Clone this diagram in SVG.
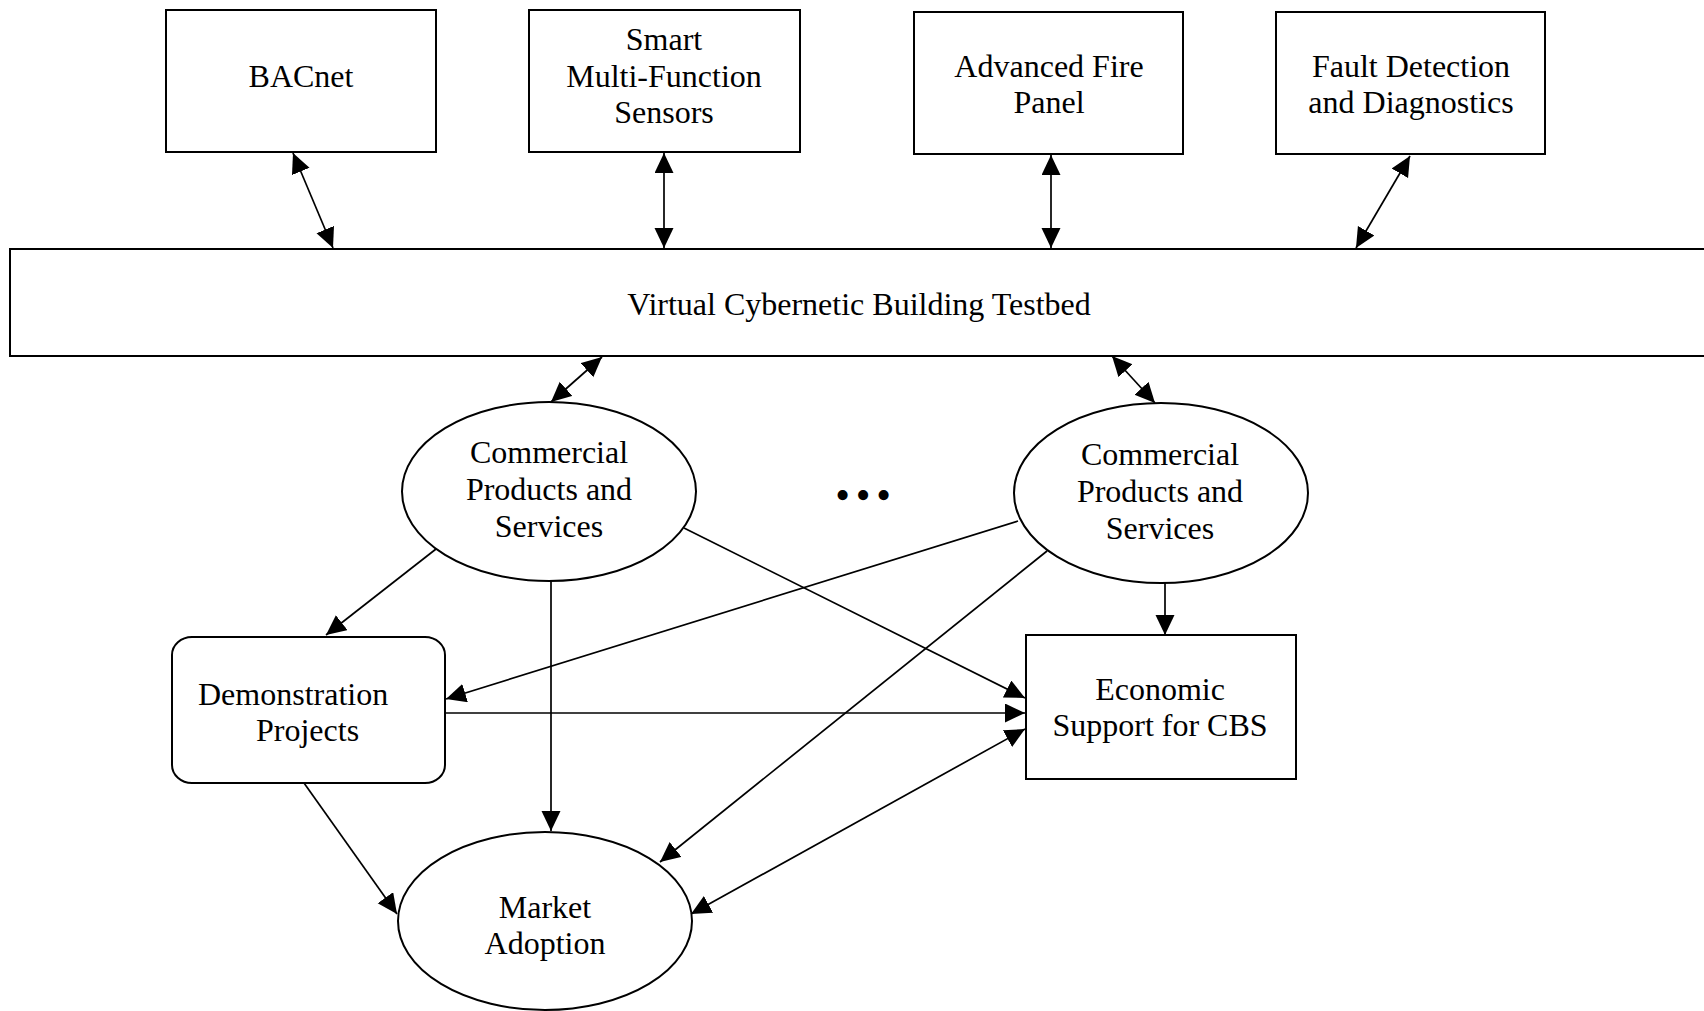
<svg xmlns="http://www.w3.org/2000/svg" width="1704" height="1011" viewBox="0 0 1704 1011">
<style>
.box{fill:#fff;stroke:#000;stroke-width:2}
.t{font-family:"Liberation Serif","Times New Roman",serif;font-size:32px;fill:#000;text-anchor:middle}
.c{fill:none;stroke:#000;stroke-width:1.7}
.a1{marker-end:url(#ah)}
.a2{marker-start:url(#ah);marker-end:url(#ah)}
</style>
<defs>
<marker id="ah" markerUnits="userSpaceOnUse" markerWidth="21" markerHeight="20" refX="20" refY="9.5" orient="auto-start-reverse" viewBox="0 0 21 20">
<path d="M0,0 L20,9.5 L0,19 Z" fill="#000"/>
</marker>
</defs>
<rect width="1704" height="1011" fill="#fff"/>
<g id="bacnet"><rect class="box" x="166" y="10" width="270" height="142"/><text class="t" x="301" y="87">BACnet</text></g>
<g id="sensors"><rect class="box" x="529" y="10" width="271" height="142"/><text class="t" x="664" y="50">Smart</text><text class="t" x="664" y="87">Multi-Function</text><text class="t" x="664" y="123">Sensors</text></g>
<g id="fire"><rect class="box" x="914" y="12" width="269" height="142"/><text class="t" x="1049" y="77">Advanced Fire</text><text class="t" x="1049" y="113">Panel</text></g>
<g id="fdd"><rect class="box" x="1276" y="12" width="269" height="142"/><text class="t" x="1411" y="77">Fault Detection</text><text class="t" x="1411" y="113">and Diagnostics</text></g>
<g id="vcbt"><rect class="box" x="10" y="249" width="1720" height="107"/><text class="t" x="859" y="315">Virtual Cybernetic Building Testbed</text></g>
<g id="cps1"><ellipse class="box" cx="549" cy="491.5" rx="147" ry="89.5"/><text class="t" x="549" y="463">Commercial</text><text class="t" x="549" y="500">Products and</text><text class="t" x="549" y="537">Services</text></g>
<g id="dots"><text class="t" x="866" y="509" style="font-size:42px;letter-spacing:5.8px">•••</text></g>
<g id="cps2"><ellipse class="box" cx="1161" cy="493" rx="147" ry="90"/><text class="t" x="1160" y="465">Commercial</text><text class="t" x="1160" y="502">Products and</text><text class="t" x="1160" y="539">Services</text></g>
<g id="demo"><rect class="box" x="172" y="637" width="273" height="146" rx="20" ry="18"/><text class="t" x="198" y="705" style="text-anchor:start">Demonstration</text><text class="t" x="256" y="741" style="text-anchor:start">Projects</text></g>
<g id="econ"><rect class="box" x="1026" y="635" width="270" height="144"/><text class="t" x="1160" y="700">Economic</text><text class="t" x="1160" y="736">Support for CBS</text></g>
<g id="market"><ellipse class="box" cx="545" cy="921" rx="147" ry="89"/><text class="t" x="545" y="918">Market</text><text class="t" x="545" y="954">Adoption</text></g>
<g id="connectors">
<line class="c a2" x1="293" y1="153" x2="333" y2="248"/>
<line class="c a2" x1="664" y1="153" x2="664" y2="248"/>
<line class="c a2" x1="1051" y1="155" x2="1051" y2="248"/>
<line class="c a2" x1="1410" y1="156" x2="1356" y2="248"/>
<line class="c a2" x1="602" y1="357" x2="551" y2="402"/>
<line class="c a2" x1="1112" y1="356" x2="1155" y2="403"/>
<line class="c a1" x1="436" y1="549" x2="326" y2="635"/>
<line class="c a1" x1="551" y1="581" x2="551" y2="831"/>
<line class="c a1" x1="684" y1="528" x2="1025" y2="698"/>
<line class="c a1" x1="1018" y1="521" x2="446" y2="699"/>
<line class="c a1" x1="1047" y1="551" x2="660" y2="862"/>
<line class="c a1" x1="1165" y1="583" x2="1165" y2="635"/>
<line class="c a1" x1="446" y1="713" x2="1025" y2="713"/>
<line class="c a1" x1="304" y1="783" x2="397" y2="914"/>
<line class="c a2" x1="691" y1="914" x2="1025" y2="729"/>
</g>
</svg>
